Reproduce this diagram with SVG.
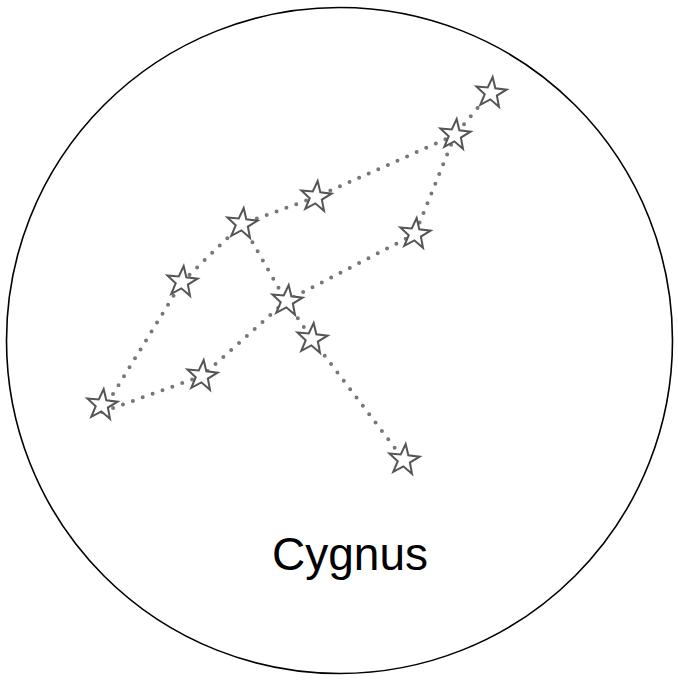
<svg xmlns="http://www.w3.org/2000/svg" xmlns:xlink="http://www.w3.org/1999/xlink" width="678" height="681" viewBox="0 0 678 681">
<style>
.dot{fill:none;stroke:#777;stroke-width:4;stroke-linecap:round;stroke-dasharray:0 10.5}
.star{fill:#fff;stroke:#555;stroke-width:2;stroke-linejoin:miter}
text{font-family:"Liberation Sans",Arial,sans-serif;font-size:46px;fill:#000}
</style>
<defs>
<polygon id="s" points="0,-16 3.8,-5.2 15.2,-4.9 6.1,1.9 9.4,12.9 0,6.4 -9.4,12.9 -6.1,1.9 -15.2,-4.9 -3.8,-5.2"/>
</defs>
<circle cx="339.5" cy="340.5" r="333" fill="#fff" stroke="#000" stroke-width="1.6"/>
<g id="connectors">
<line class="dot" x1="491" y1="92" x2="455" y2="135"/>
<line class="dot" x1="455" y1="135" x2="316" y2="197"/>
<line class="dot" x1="316" y1="197" x2="242" y2="224"/>
<line class="dot" x1="455" y1="135" x2="415" y2="234"/>
<line class="dot" x1="415" y1="234" x2="286" y2="301"/>
<line class="dot" x1="286" y1="301" x2="202" y2="376"/>
<line class="dot" x1="202" y1="376" x2="102" y2="412"/>
<line class="dot" x1="102" y1="412" x2="182" y2="282"/>
<line class="dot" x1="182" y1="282" x2="242" y2="224"/>
<line class="dot" x1="242" y1="224" x2="286" y2="301"/>
<line class="dot" x1="286" y1="301" x2="312" y2="339"/>
<line class="dot" x1="312" y1="339" x2="404" y2="460"/>
</g>
<g id="star1"><use xlink:href="#s" class="star" transform="translate(491,93) rotate(6)"/></g>
<g id="star2"><use xlink:href="#s" class="star" transform="translate(455,135) rotate(6)"/></g>
<g id="star3"><use xlink:href="#s" class="star" transform="translate(316,197) rotate(6)"/></g>
<g id="star4"><use xlink:href="#s" class="star" transform="translate(242,224) rotate(6)"/></g>
<g id="star5"><use xlink:href="#s" class="star" transform="translate(415,234) rotate(6)"/></g>
<g id="star6"><use xlink:href="#s" class="star" transform="translate(182,282) rotate(6)"/></g>
<g id="star7"><use xlink:href="#s" class="star" transform="translate(287,301) rotate(6)"/></g>
<g id="star8"><use xlink:href="#s" class="star" transform="translate(312,339) rotate(6)"/></g>
<g id="star9"><use xlink:href="#s" class="star" transform="translate(202,376) rotate(6)"/></g>
<g id="star10"><use xlink:href="#s" class="star" transform="translate(102,405) rotate(6)"/></g>
<g id="star11"><use xlink:href="#s" class="star" transform="translate(404,460) rotate(6)"/></g>
<g id="label"><text x="350" y="570" text-anchor="middle">Cygnus</text></g>
</svg>
